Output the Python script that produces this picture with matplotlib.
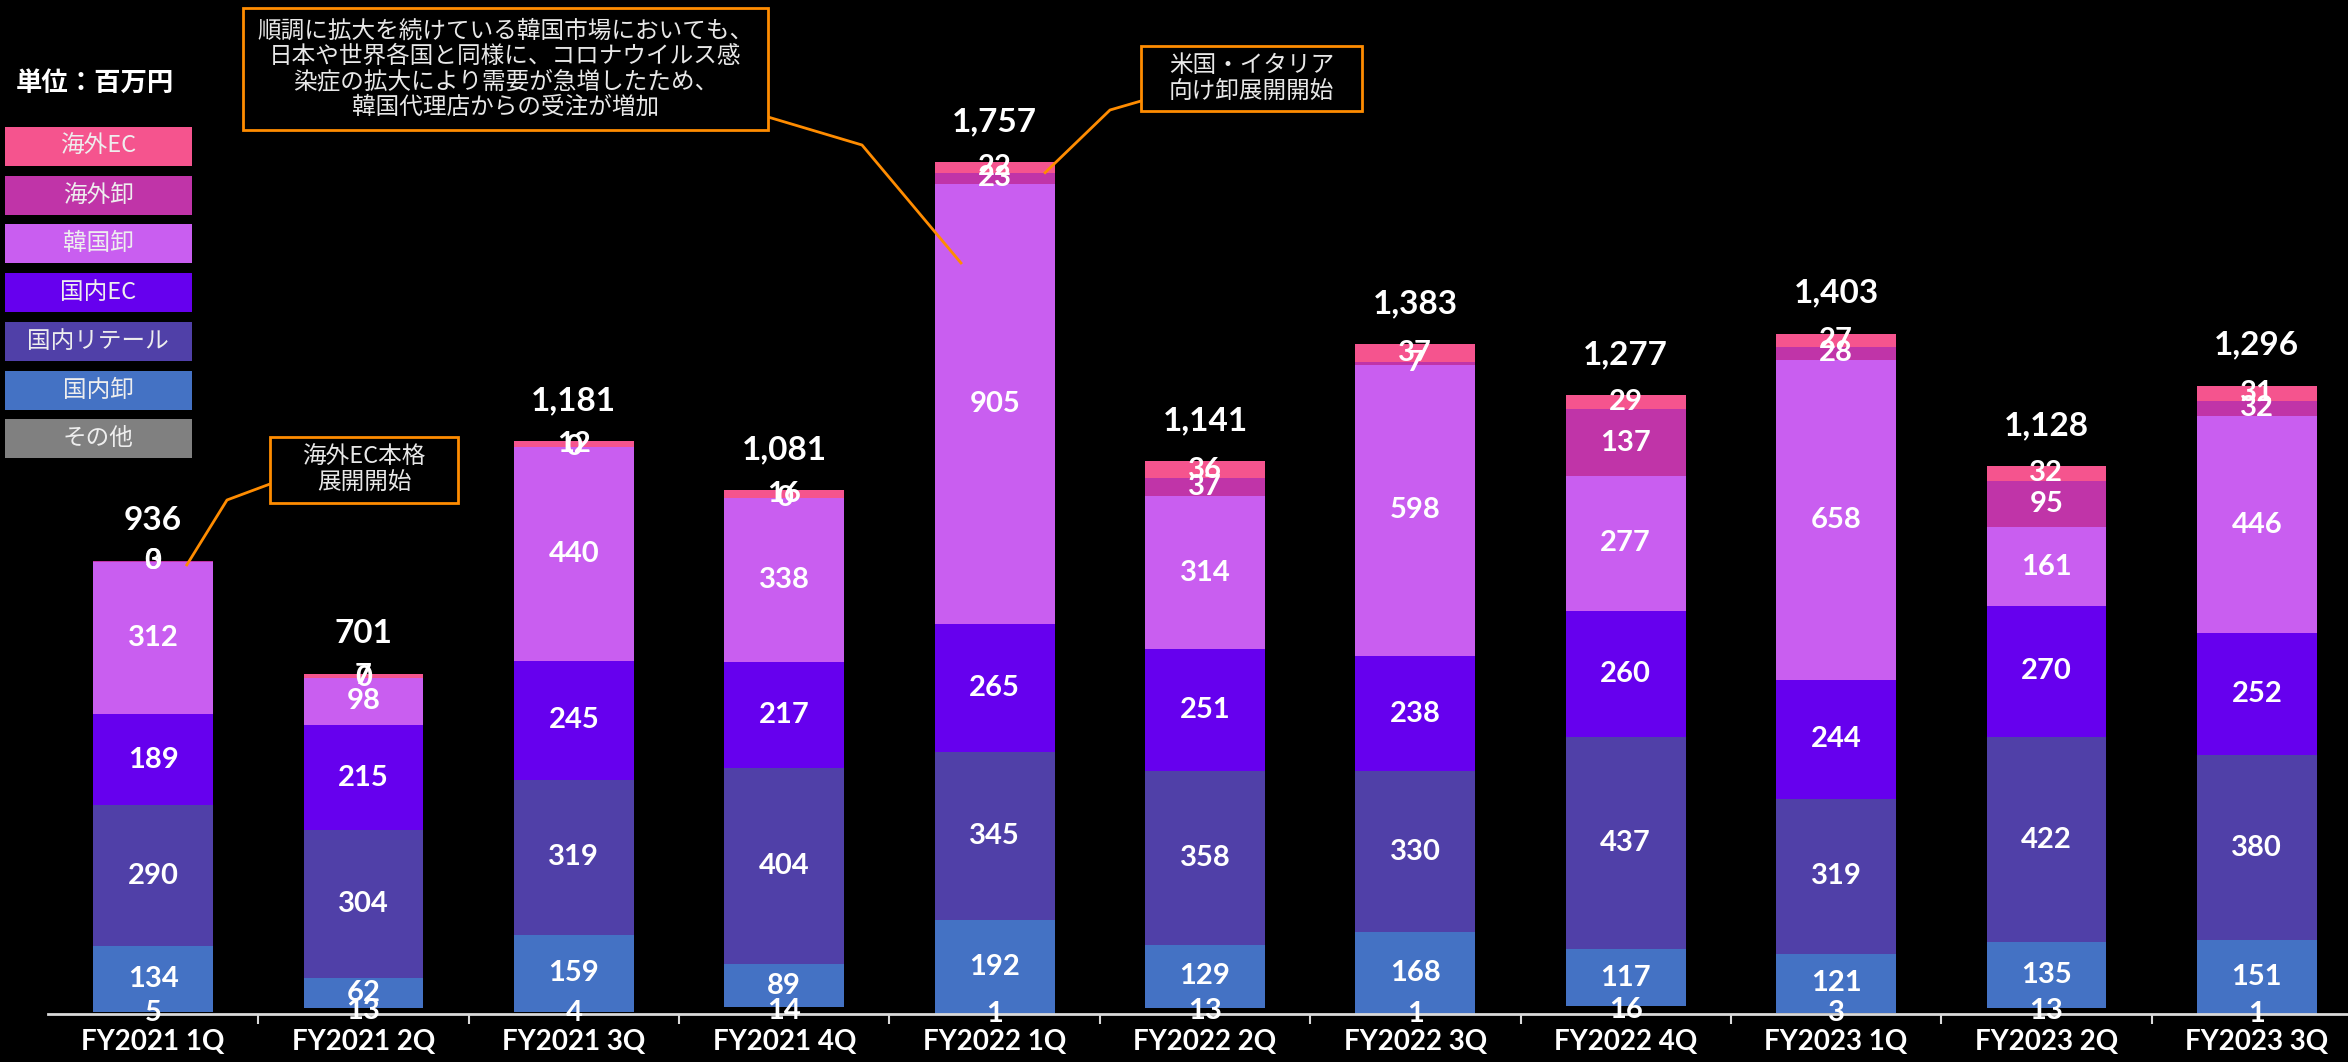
import matplotlib
matplotlib.use('Agg')
import matplotlib.pyplot as plt
import numpy as np
from matplotlib.patches import Rectangle
from matplotlib.lines import Line2D

categories = ['FY2021 1Q', 'FY2021 2Q', 'FY2021 3Q', 'FY2021 4Q', 'FY2022 1Q', 'FY2022 2Q',
              'FY2022 3Q', 'FY2022 4Q', 'FY2023 1Q', 'FY2023 2Q', 'FY2023 3Q']
other = [5, 13, 4, 14, 1, 13, 1, 16, 3, 13, 1]
domestic_wholesale = [134, 62, 159, 89, 192, 129, 168, 117, 121, 135, 151]
domestic_retail = [290, 304, 319, 404, 345, 358, 330, 437, 319, 422, 380]
domestic_ec = [189, 215, 245, 217, 265, 251, 238, 260, 244, 270, 252]
korea_wholesale = [312, 98, 440, 338, 905, 314, 598, 277, 658, 161, 446]
overseas_wholesale = [3, 0, 0, 0, 23, 37, 7, 137, 28, 95, 32]
overseas_ec = [0, 7, 12, 16, 22, 36, 37, 29, 27, 32, 31]
totals = [936, 701, 1181, 1081, 1757, 1141, 1383, 1277, 1403, 1128, 1296]

series_names = ['その他', '国内卸', '国内リテール', '国内EC', '韓国卸', '海外卸', '海外EC']
series = [other, domestic_wholesale, domestic_retail, domestic_ec,
          korea_wholesale, overseas_wholesale, overseas_ec]
colors = ['#808080', '#4472C4', '#5040A8', '#6600EE', '#C95EF0', '#C034A8', '#F5548E']

W, H = 2348, 1062
JP = ['Noto Sans CJK JP', 'DejaVu Sans']
NUM = ['Lato', 'DejaVu Sans']


def px(x, y):
    # pixel position (top-left origin) -> figure fraction
    return x / W, 1 - y / H


fig = plt.figure(figsize=(W / 100, H / 100), dpi=100, facecolor='black')
ax = fig.add_axes([48 / W, 48 / H, 2314 / W, 994 / H], facecolor='black')

x = np.arange(len(categories))
bottom = np.zeros(len(categories))
bottoms = []
for name, vals, col in zip(series_names, series, colors):
    vals = np.array(vals, dtype=float)
    # the "other" segment is not visible in the original chart
    fc = 'none' if name == 'その他' else col
    ax.bar(x, vals, 0.57, bottom=bottom, color=fc, linewidth=0, zorder=2)
    bottoms.append(bottom.copy())
    bottom = bottom + vals

for vals, bot in zip(series, bottoms):
    for i, v in enumerate(vals):
        ax.text(x[i], bot[i] + v / 2, f'{v:,}', ha='center', va='center', color='white',
                fontsize=21, fontweight='bold', family=NUM, zorder=5)

for i, t in enumerate(totals):
    ax.annotate(f'{t:,}', (x[i], bottom[i]), xytext=(0, 29), textcoords='offset points',
                ha='center', va='center', color='white', fontsize=24, fontweight='bold',
                family=NUM, zorder=5)

ax.set_xlim(-0.5, len(categories) - 0.5)
ax.set_ylim(0, 2045)
for s in ['top', 'left', 'right']:
    ax.spines[s].set_visible(False)
ax.spines['bottom'].set_color('#d9d9d9')
ax.spines['bottom'].set_linewidth(2)
ax.set_yticks([])
ax.set_xticks(x)
ax.set_xticklabels(categories, color='white', fontsize=20, fontweight='bold', family=NUM)
ax.tick_params(axis='x', which='major', length=0, pad=11)
ax.set_xticks(np.arange(len(categories) - 1) + 0.5, minor=True)
ax.tick_params(axis='x', which='minor', length=7, width=1.5, color='#d9d9d9', direction='out')

# unit label and legend boxes
fig.text(*px(95, 83), '単位：百万円', ha='center', va='center', color='white',
         fontsize=19, fontweight='bold', family=JP)
for k, (name, col) in enumerate(zip(series_names[::-1], colors[::-1])):
    top = 127 + k * 48.7
    x0, y0 = px(5, top + 39)
    fig.patches.append(Rectangle((x0, y0), 187 / W, 39 / H, transform=fig.transFigure,
                                 facecolor=col, edgecolor='none'))
    fig.text(*px(98, top + 19.5), name, ha='center', va='center', color='#eeeeee',
             fontsize=17, family=JP)


def to_fig(xd, yd):
    return fig.transFigure.inverted().transform(ax.transData.transform((xd, yd)))


def callout(box, lines, elbow, target):
    l, t, r, b = box
    x0, y0 = px(l, b)
    fig.patches.append(Rectangle((x0, y0), (r - l) / W, (b - t) / H, transform=fig.transFigure,
                                 facecolor='black', edgecolor='#FF8C00', linewidth=2, zorder=6))
    fig.text(*px((l + r) / 2, (t + b) / 2), '\n'.join(lines), ha='center', va='center',
             color='#e8e8e8', fontsize=17, family=JP, linespacing=1.12, zorder=7)
    pts = [px(*p) for p in elbow] + [tuple(to_fig(*target))]
    fig.lines.append(Line2D([p[0] for p in pts], [p[1] for p in pts], transform=fig.transFigure,
                            color='#FF8C00', linewidth=2, zorder=6))


callout((243, 8, 768, 130),
        ['順調に拡大を続けている韓国市場においても、', '日本や世界各国と同様に、コロナウイルス感',
         '染症の拡大により需要が急増したため、', '韓国代理店からの受注が増加'],
        [(768, 117), (862, 145)],
        (4 - 0.16, bottoms[4][4] + 0.82 * korea_wholesale[4]))
callout((1141, 46, 1362, 111), ['米国・イタリア', '向け卸展開開始'],
        [(1141, 101), (1110, 110)],
        (4 + 0.24, bottoms[5][4] + overseas_wholesale[4]))
callout((270, 437, 458, 503), ['海外EC本格', '展開開始'],
        [(270, 484), (227, 500)],
        (0 + 0.16, bottoms[4][0] + korea_wholesale[0] - 6))

fig.savefig('out.png', dpi=100, facecolor='black')
